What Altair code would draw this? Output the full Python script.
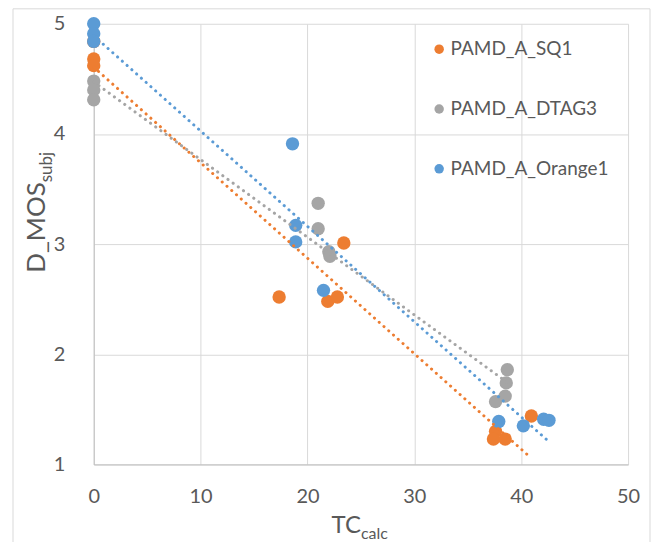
import altair as alt
import pandas as pd

series_names = ["PAMD_A_SQ1", "PAMD_A_DTAG3", "PAMD_A_Orange1"]
series_colors = ["#ED7D31", "#A5A5A5", "#5B9BD5"]

sq1_x = [0, 0, 0, 17.35, 21.9, 22.8, 23.4, 37.6, 37.4, 38.5, 40.95]
sq1_y = [4.84, 4.68, 4.62, 2.52, 2.48, 2.52, 3.01, 1.30, 1.23, 1.23, 1.44]

dtag3_x = [0, 0, 0, 21.0, 21.0, 22.0, 22.1, 38.7, 38.6, 38.5, 37.6]
dtag3_y = [4.48, 4.40, 4.31, 3.37, 3.14, 2.93, 2.89, 1.86, 1.74, 1.62, 1.57]

orange1_x = [0, 0, 0, 18.6, 18.9, 18.9, 21.5, 37.9, 40.2, 42.1, 42.6]
orange1_y = [5.00, 4.91, 4.84, 3.91, 3.17, 3.02, 2.58, 1.39, 1.35, 1.41, 1.40]

x_ticks = [0, 10, 20, 30, 40, 50]
y_ticks = [1, 2, 3, 4, 5]

rows = []
k = 0
for name, xs, ys in [(series_names[0], sq1_x, sq1_y),
                     (series_names[1], dtag3_x, dtag3_y),
                     (series_names[2], orange1_x, orange1_y)]:
    for xv, yv in zip(xs, ys):
        rows.append({"series": name, "x": xv, "y": yv, "k": k})
        k += 1
df = pd.DataFrame(rows)

W, H = 536, 442
FONT = "Lato"
GREY_TXT = "#595959"

xscale = alt.Scale(domain=[0, 50], nice=False)
yscale = alt.Scale(domain=[1, 5], nice=False)

base = alt.Chart(df)

points = base.mark_circle(size=180, opacity=1).encode(
    x=alt.X("x:Q", scale=xscale,
            axis=alt.Axis(values=x_ticks, title=None, grid=True, ticks=False,
                          labelPadding=22, format="d", labelFlush=False)),
    y=alt.Y("y:Q", scale=yscale,
            axis=alt.Axis(values=y_ticks, title=None, grid=True, ticks=False,
                          labelPadding=29, format="d", labelFlush=False)),
    color=alt.Color("series:N",
                    scale=alt.Scale(domain=series_names, range=series_colors),
                    legend=alt.Legend(orient="none", legendX=337, legendY=16,
                                      title=None, symbolType="circle",
                                      symbolSize=90, labelFontSize=19,
                                      labelFont=FONT, labelColor=GREY_TXT,
                                      rowPadding=40, labelOffset=2, padding=0)),
    order=alt.Order("k:Q"),
)

trend = base.transform_regression(
    "x", "y", groupby=["series"]
).mark_line(strokeDash=[0.1, 6.3], strokeWidth=3, strokeCap="round").encode(
    x=alt.X("x:Q", scale=xscale),
    y=alt.Y("y:Q", scale=yscale),
    stroke=alt.Stroke("series:N",
                      scale=alt.Scale(domain=series_names, range=series_colors),
                      legend=None),
)

one = pd.DataFrame({"a": [0]})

border = alt.Chart(one).mark_rect(fill=None, stroke="#D9D9D9", strokeWidth=1, clip=False).encode(
    x=alt.value(-81), x2=alt.value(558), y=alt.value(-15), y2=alt.value(530)
)

xt_main = alt.Chart(pd.DataFrame({"t": ["TC"]})).mark_text(
    align="right", baseline="alphabetic", font=FONT, fontSize=24, color=GREY_TXT
).encode(text="t:N", x=alt.value(268), y=alt.value(511))
xt_sub = alt.Chart(pd.DataFrame({"t": ["calc"]})).mark_text(
    align="left", baseline="alphabetic", font=FONT, fontSize=16, color=GREY_TXT
).encode(text="t:N", x=alt.value(268), y=alt.value(517))

yt_main = alt.Chart(pd.DataFrame({"t": ["D_MOS"]})).mark_text(
    align="right", baseline="alphabetic", font=FONT, fontSize=26, color=GREY_TXT, angle=270
).encode(text="t:N", x=alt.value(-49), y=alt.value(159))
yt_sub = alt.Chart(pd.DataFrame({"t": ["subj"]})).mark_text(
    align="left", baseline="alphabetic", font=FONT, fontSize=17, color=GREY_TXT, angle=270
).encode(text="t:N", x=alt.value(-42), y=alt.value(159))

chart = alt.layer(border, points, trend, xt_main, xt_sub, yt_main, yt_sub).resolve_scale(
    color="independent", stroke="independent"
).properties(
    width=W, height=H,
    autosize=alt.AutoSizeParams(type="none"),
    padding={"left": 86, "top": 15, "right": 23, "bottom": 77},
).configure_view(stroke=None).configure_axis(
    labelFont=FONT, labelFontSize=20, labelColor=GREY_TXT,
    gridColor="#D9D9D9", gridWidth=1, domainColor="#BFBFBF", domainWidth=1,
)

chart.save("out.html", embed_options={"renderer": "svg", "actions": False})
